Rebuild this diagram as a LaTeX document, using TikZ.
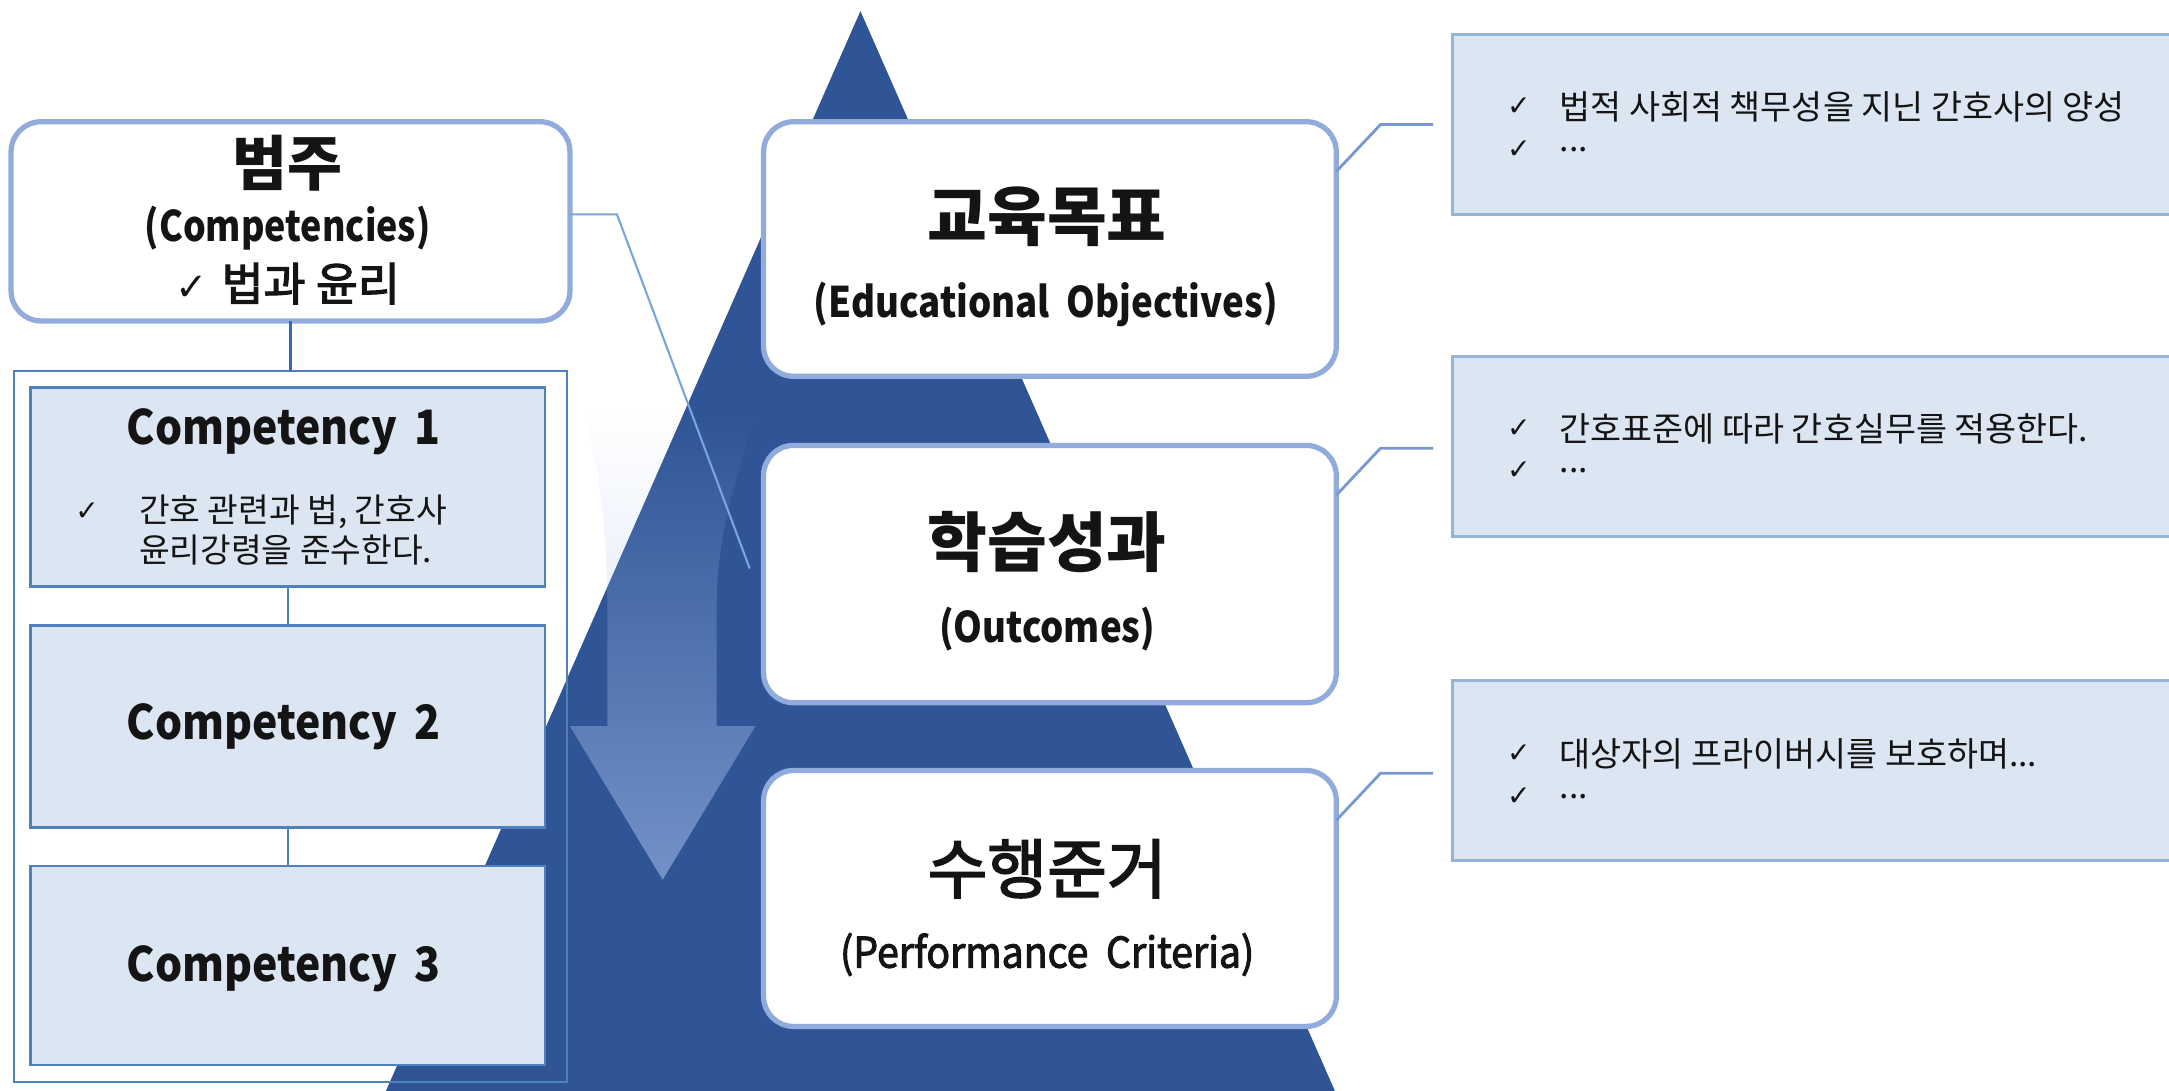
\documentclass[tikz,border=0pt]{standalone}
\usepackage{fontspec}
\usepackage{graphicx}
\setmainfont{Noto Sans CJK KR}
\newfontfamily\medf{Noto Sans CJK KR}[FakeBold=2.5]
\newfontfamily\chkfont{DejaVu Sans}
\usetikzlibrary{fadings,fit,calc}
\newcommand{\ckm}[1]{{\chkfont\fontsize{#1}{#1}\selectfont\char"2713}}
\newcommand{\cnd}[2]{\scalebox{#1}[1]{#2}}
\definecolor{tricol}{RGB}{47,85,151}
\definecolor{rborder}{RGB}{145,171,220}
\definecolor{cfill}{RGB}{220,230,242}
\definecolor{cborder}{RGB}{79,129,189}
\definecolor{lborder}{RGB}{150,180,216}
\definecolor{lnk}{RGB}{120,152,208}
\definecolor{catlink}{RGB}{120,165,220}
\definecolor{catconn}{RGB}{46,110,180}
\definecolor{arrowc}{RGB}{165,190,235}
\definecolor{txt}{RGB}{20,20,20}
\tikzfading[name=arrowfade, top color=transparent!100, middle color=transparent!48, bottom color=transparent!42]
\begin{document}
\begin{tikzpicture}[x=0.013833cm,y=-0.013833cm,
  rbox/.style={draw=rborder, line width=1.5pt, fill=white, rounded corners=0.3cm, inner sep=0pt, outer sep=0pt},
  cbox/.style={draw=cborder, line width=0.75pt, fill=cfill, inner sep=0pt, outer sep=0pt},
  grpbox/.style={draw=cborder, line width=0.5pt, inner sep=0pt, outer sep=0pt},
  lbox/.style={draw=lborder, line width=0.8pt, fill=cfill, inner sep=0pt, outer sep=0pt},
  cattl/.style={font=\fontsize{17}{20}\selectfont\bfseries, text=txt, inner sep=0pt},
  ttl/.style={font=\fontsize{18.5}{22}\selectfont\bfseries, text=txt, inner sep=0pt},
  ttlm/.style={font=\fontsize{18.5}{22}\selectfont\medf, text=txt, inner sep=0pt},
  subb/.style={font=\fontsize{12}{14}\selectfont\bfseries, text=txt, inner sep=0pt},
  subm/.style={font=\fontsize{12}{14}\selectfont\medf, text=txt, inner sep=0pt},
  catitem/.style={font=\fontsize{13}{15}\selectfont\medf, text=txt, inner sep=0pt},
  comptitle/.style={font=\fontsize{13.5}{16}\selectfont\bfseries, text=txt, inner sep=0pt},
  item/.style={font=\fontsize{9.6}{11}\selectfont, text=txt, inner sep=0pt, anchor=west},
  citem/.style={font=\fontsize{9.5}{11}\selectfont, text=txt, inner sep=0pt, anchor=west},
  chk/.style={text=txt, inner sep=0pt},
  compconn/.style={draw=cborder, line width=0.5pt},
  catconnst/.style={draw=catconn, line width=0.95pt},
  catlinest/.style={draw=catlink, line width=0.6pt},
  callout/.style={draw=lnk, line width=0.8pt}
]
\useasboundingbox (0,0) rectangle (1568,788);
% pyramid
\begin{scope}
\clip (0,0) rectangle (1568,788);
\fill[tricol] (622,8) -- (274,800) -- (970,800) -- cycle;
\end{scope}
% down arrow
\fill[arrowc, path fading=arrowfade] (421,296) .. controls (433,340) and (439,380) .. (439,440) -- (439,525) -- (412,525) -- (479,636) -- (546,525) -- (518,525) -- (518,440) .. controls (518,380) and (535,340) .. (547,296) -- cycle;

% left column
\node[rbox, fit={(8,88)(412,232)}] (cat) {};
\node[grpbox, fit={(10,268)(410,782)}] (grp) {};
\node[cbox, fit={(22,280)(394,424)}] (c1) {};
\node[cbox, fit={(22,452)(394,598)}] (c2) {};
\node[cbox, fit={(22,626)(394,770)}] (c3) {};
\draw[catconnst] (cat.south) -- (grp.north);
\draw[compconn] (c1.south) -- (c2.north);
\draw[compconn] (c2.south) -- (c3.north);

\node[cattl] (catT) at (208,118) {범주};
\node[subb] (catS) at (208,165) {\cnd{0.85}{(Competencies)}};
\node[catitem] (catI) at (208,205) {\ckm{11}\hspace{0.3em}법과 윤리};

\node[comptitle] (c1T) at (205,312) {\cnd{0.9}{Competency\hspace{0.4em}1}};
\node[chk] (c1k) at (63,370) {\ckm{8}};
\node[citem] (c1a) at (100,370) {간호 관련과 법, 간호사};
\node[citem] (c1b) at (100,398) {윤리강령을 준수한다.};
\node[comptitle] (c2T) at (205,525) {\cnd{0.9}{Competency\hspace{0.4em}2}};
\node[comptitle] (c3T) at (205,700) {\cnd{0.9}{Competency\hspace{0.4em}3}};

% link from category to pyramid
\coordinate (catend) at (542,411);
\draw[catlinest] ([yshift=2pt]cat.east) -- ++(34,0) -- (catend);

% pyramid boxes
\node[rbox, fit={(552,88)(966,272)}] (edu) {};
\node[rbox, fit={(552,322)(966,508)}] (out) {};
\node[rbox, fit={(552,557)(966,742)}] (perf) {};
\node[ttl] (eduT) at (757,157) {교육목표};
\node[subb] (eduS) at (756,220) {\cnd{0.87}{(Educational\hspace{0.45em}Objectives)}};
\node[ttl] (outT) at (757,392) {학습성과};
\node[subb] (outS) at (757,455) {\cnd{0.87}{(Outcomes)}};
\node[ttlm] (perfT) at (757,628) {수행준거};
\node[subm] (perfS) at (757,690) {\cnd{0.93}{(Performance\hspace{0.45em}Criteria)}};

% list boxes
\node[lbox, fit={(1050,25)(1585,155)}] (r1) {};
\node[lbox, fit={(1050,258)(1585,388)}] (r2) {};
\node[lbox, fit={(1050,492)(1585,622)}] (r3) {};

\node[chk] (r1k1) at (1098,77) {\ckm{8}};
\node[item] (r1a) at (1127,77) {법적 사회적 책무성을 지닌 간호사의 양성};
\node[chk] (r1k2) at (1098,108) {\ckm{8}};
\node[item] (r1b) at (1127,108) {...};

\node[chk] (r2k1) at (1098,310) {\ckm{8}};
\node[item] (r2a) at (1127,310) {간호표준에 따라 간호실무를 적용한다.};
\node[chk] (r2k2) at (1098,340) {\ckm{8}};
\node[item] (r2b) at (1127,340) {...};

\node[chk] (r3k1) at (1098,545) {\ckm{8}};
\node[item] (r3a) at (1127,545) {대상자의 프라이버시를 보호하며...};
\node[chk] (r3k2) at (1098,576) {\ckm{8}};
\node[item] (r3b) at (1127,576) {...};

% callout connectors
\draw[callout] ($(edu.north east)+(0,36)$) -- ++(32,-34) -- ++(38,0);
\draw[callout] ($(out.north east)+(0,36)$) -- ++(32,-34) -- ++(38,0);
\draw[callout] ($(perf.north east)+(0,36)$) -- ++(32,-34) -- ++(38,0);
\end{tikzpicture}
\end{document}
